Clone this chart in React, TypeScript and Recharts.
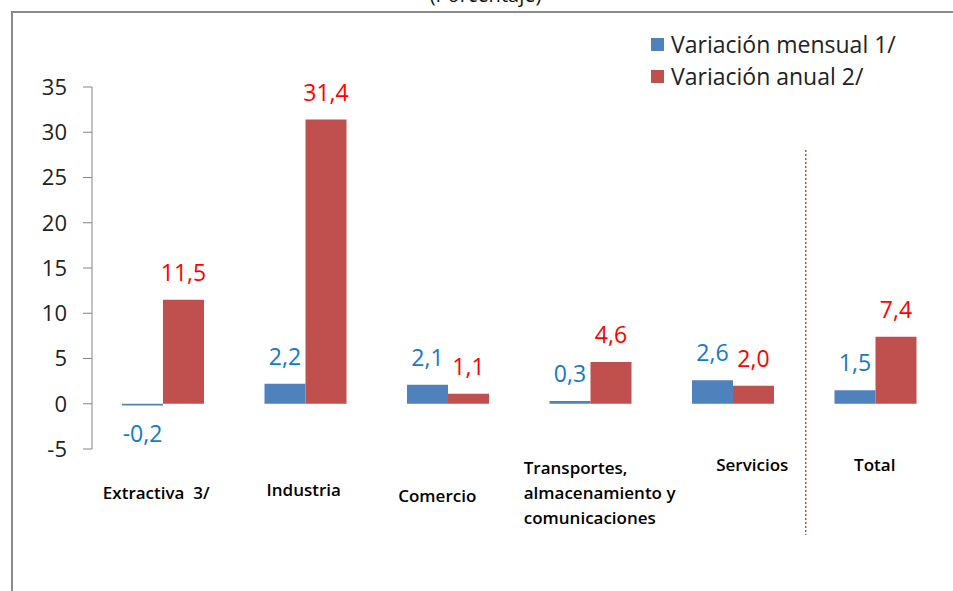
import { BarChart, Bar, XAxis, YAxis, Legend, LabelList, ReferenceLine } from 'recharts'

// Sectores
const CATEGORIES = [
  'Extractiva 3/',
  'Industria',
  'Comercio',
  'Transportes, almacenamiento y comunicaciones',
  'Servicios',
  'Total',
]
const TICK_LINES = [
  ['Extractiva  3/'],
  ['Industria'],
  ['Comercio'],
  ['Transportes,', 'almacenamiento y', 'comunicaciones'],
  ['Servicios'],
  ['Total'],
]
const MENSUAL = [-0.2, 2.2, 2.1, 0.3, 2.6, 1.5]
const ANUAL = [11.5, 31.4, 1.1, 4.6, 2.0, 7.4]
const Y_TICKS = [-5, 0, 5, 10, 15, 20, 25, 30, 35]

const BLUE = '#4F81BD'
const RED = '#C0504D'
const FONT = '"Open Sans", "Liberation Sans", sans-serif'

// label placement tweaks per category (dx from band centre, baseline dy from axis)
const TICK_LAYOUT = [
  { dx: -7, dy: 50, anchor: 'middle' },
  { dx: -2, dy: 47, anchor: 'middle' },
  { dx: -11, dy: 53, anchor: 'middle' },
  { dx: -67, dy: 25, anchor: 'start' },
  { dx: 19, dy: 22, anchor: 'middle' },
  { dx: -1, dy: 22, anchor: 'middle' },
]

const chartData = CATEGORIES.map((name, i) => ({
  name,
  mensual: MENSUAL[i],
  anual: ANUAL[i],
}))

const fmt = (v: number) => v.toFixed(1).replace('.', ',')

function CategoryTick(props: any) {
  const { x, y, payload } = props
  const i = payload.index
  const lay = TICK_LAYOUT[i]
  return (
    <text
      x={x + lay.dx}
      y={y + lay.dy}
      textAnchor={lay.anchor}
      fontFamily={FONT}
      fontSize={17}
      fontWeight={600}
      fill="#000"
    >
      {TICK_LINES[i].map((line, k) => (
        <tspan key={k} x={x + lay.dx} dy={k === 0 ? 0 : 25} style={{ whiteSpace: 'pre' }}>
          {line}
        </tspan>
      ))}
    </text>
  )
}

function makeValueLabel(color: string) {
  return (props: any) => {
    const { x, y, width, height, value } = props
    const top = Math.min(y, y + height)
    const bottom = Math.max(y, y + height)
    const cx = x + width / 2
    const ty = value < 0 ? bottom + 36 : top - 19
    return (
      <text x={cx} y={ty} textAnchor="middle" fontFamily={FONT} fontSize={23} fill={color}>
        {fmt(value)}
      </text>
    )
  }
}

function LegendBox() {
  const items = [
    { label: 'Variación mensual 1/', color: BLUE },
    { label: 'Variación anual 2/', color: RED },
  ]
  return (
    <div style={{ fontFamily: FONT, fontSize: 23, color: '#222' }}>
      {items.map((it) => (
        <div key={it.label} style={{ display: 'flex', alignItems: 'center', height: 32 }}>
          <span style={{ width: 13, height: 13, background: it.color, marginRight: 7 }} />
          <span>{it.label}</span>
        </div>
      ))}
    </div>
  )
}

function Divider(props: any) {
  const { x1, y1, y2 } = props
  const x = x1 - 70
  const top = Math.min(y1, y2)
  const bottom = Math.max(y1, y2)
  return (
    <line x1={x} y1={top + 63} x2={x} y2={bottom + 86} stroke={RED} strokeWidth={1.5} strokeDasharray="2 2" />
  )
}

export default function App() {
  return (
    <div
      style={{
        position: 'fixed',
        left: 0,
        top: 0,
        width: 953,
        height: 591,
        overflow: 'hidden',
        background: '#fff',
      }}
    >
      <div
        style={{
          position: 'absolute',
          left: 0,
          width: 953,
          top: -19,
          textAlign: 'center',
          paddingLeft: 18,
          boxSizing: 'border-box',
          fontFamily: FONT,
          fontSize: 20,
          color: '#111',
        }}
      >
        (Porcentaje)
      </div>
      <div
        style={{
          position: 'absolute',
          left: 11,
          top: 11,
          width: 1200,
          height: 1200,
          border: '2px solid #8a8a8a',
        }}
      />
      <div style={{ position: 'absolute', left: 0, top: 0 }}>
        <BarChart
          width={953}
          height={591}
          data={chartData}
          margin={{ top: 87, right: 6, bottom: 42, left: 32 }}
          barGap={0}
          barSize={41}
        >
          <XAxis
            dataKey="name"
            axisLine={false}
            tickLine={false}
            tickSize={0}
            tickMargin={0}
            interval={0}
            height={100}
            tick={<CategoryTick />}
          />
          <YAxis
            domain={[-5, 35]}
            ticks={Y_TICKS}
            interval={0}
            width={60}
            axisLine={{ stroke: '#868686', strokeWidth: 1 }}
            tickLine={{ stroke: '#868686', strokeWidth: 1 }}
            tickSize={9}
            tickMargin={16}
            tick={{ fontFamily: FONT, fontSize: 22, fill: '#222' }}
          />
          <Legend
            layout="horizontal"
            verticalAlign="middle"
            align="center"
            content={<LegendBox />}
            wrapperStyle={{ top: 28, left: 651, width: 302 }}
          />
          <ReferenceLine x="Total" ifOverflow="visible" shape={<Divider />} />
          <Bar dataKey="mensual" name="Variación mensual 1/" fill={BLUE} isAnimationActive={false}>
            <LabelList dataKey="mensual" content={makeValueLabel('#1479C9')} />
          </Bar>
          <Bar dataKey="anual" name="Variación anual 2/" fill={RED} isAnimationActive={false}>
            <LabelList dataKey="anual" content={makeValueLabel('#FF0000')} />
          </Bar>
        </BarChart>
      </div>
    </div>
  )
}
